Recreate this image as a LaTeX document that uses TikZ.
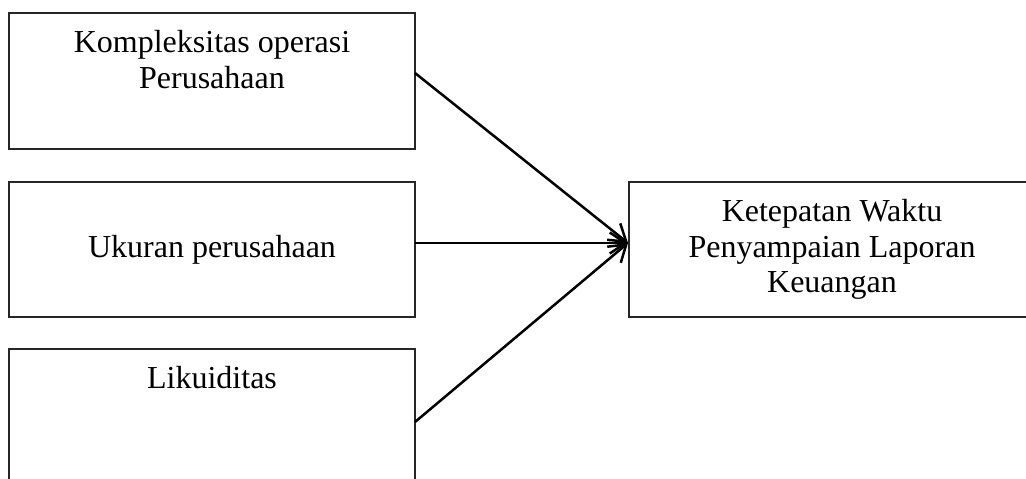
\documentclass[tikz,border=0pt]{standalone}
\usepackage{fontspec}
\setmainfont{Liberation Serif}
\usetikzlibrary{arrows.meta}
\begin{document}
\begin{tikzpicture}[x=1pt,y=-1pt,
  boxstyle/.style={draw=black!85,line width=1.3pt},
  lbl/.style={anchor=base,inner sep=0pt,font=\fontsize{32}{36}\selectfont},
  conn/.style={line width=2.5pt,-{Straight Barb[length=16pt,width=21pt,line width=2.5pt]}}]
\useasboundingbox (0,0) rectangle (1026,479);
\begin{scope}
\clip (0,0) rectangle (1026,479);
% boxes
\draw[boxstyle] (9,13) rectangle (415,149);
\draw[boxstyle] (9,182) rectangle (415,317);
\draw[boxstyle] (9,349) rectangle (415,490);
\draw[boxstyle] (629,182) rectangle (1040,317);
\end{scope}
% anchor points
\coordinate (a1) at (415,73);
\coordinate (a2) at (415,243);
\coordinate (a3) at (415,422);
\coordinate (t) at (628,243);
% texts
\node[lbl] (k1) at (212,52) {Kompleksitas operasi};
\node[lbl] (k2) at (212,88) {Perusahaan};
\node[lbl] (u) at (212,257) {Ukuran perusahaan};
\node[lbl] (l) at (212,388) {Likuiditas};
\node[lbl] (r1) at (832,221) {Ketepatan Waktu};
\node[lbl] (r2) at (832,257) {Penyampaian Laporan};
\node[lbl] (r3) at (832,292) {Keuangan};
% connectors
\draw[conn] (a1) -- (t);
\draw[conn] (a2) -- (t);
\draw[conn] (a3) -- (t);
\end{tikzpicture}
\end{document}
